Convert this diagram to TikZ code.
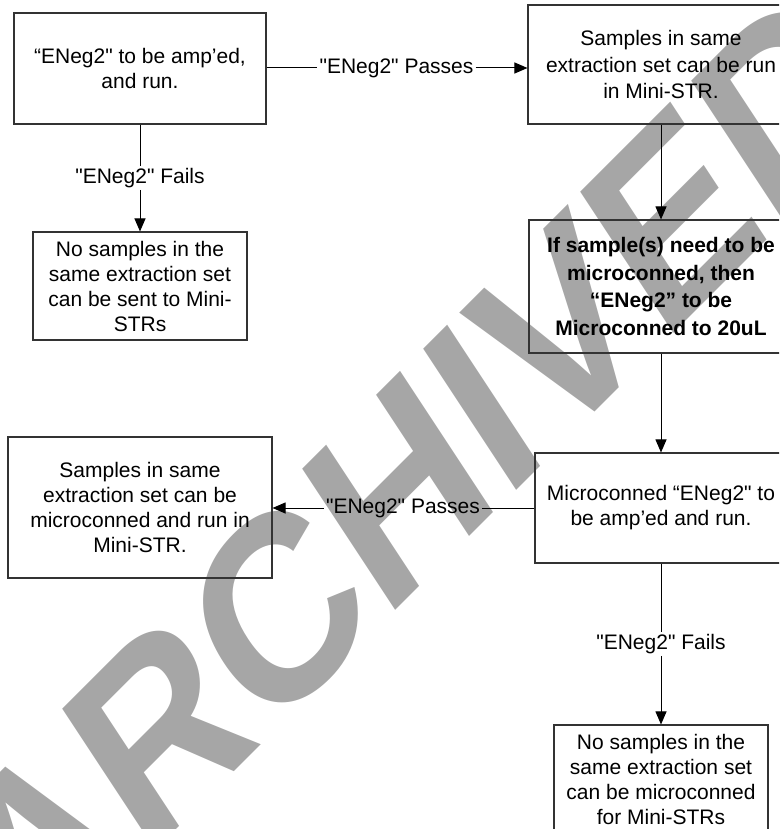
\documentclass[tikz,border=0pt]{standalone}
\usepackage{fontspec}
\setmainfont{Liberation Sans}[Ligatures=TeXOff]
\usetikzlibrary{arrows.meta}
\definecolor{stampgray}{RGB}{166,166,166}
\begin{document}
\begin{tikzpicture}[x=1pt,y=-1pt,
  box/.style={draw=black!80, line width=1.1pt, rectangle, inner sep=0pt,
              align=center, font=\fontsize{21}{25}\selectfont},
  cond/.style={inner sep=2pt, font=\fontsize{21}{25}\selectfont},
  flow/.style={draw=black, line width=1pt},
  arr/.style={flow, -{Triangle[length=13pt,width=11pt]}}]
\useasboundingbox (0,0) rectangle (779,829);
\clip (0,0) rectangle (779,829);

% diagonal stamp behind the chart
\begin{scope}[shift={(24.3,982.3)}, cm={0.776,0.776,-0.630,0.957,(0,0)}]
  \node[transform shape, anchor=base west, inner sep=0pt, text=stampgray,
        font=\fontsize{214.5}{214.5}\selectfont\bfseries] (stamp) at (0,0) {ARCHIVED};
\end{scope}

% process boxes
\node[box, minimum width=252pt, minimum height=111pt] (amp) at (140,68.5)
  {“ENeg2" to be amp’ed,\\and run.};
\node[box, minimum width=266pt, minimum height=119pt,
      font=\fontsize{21}{26.5}\selectfont] (runset) at (661,64.5)
  {Samples in same\\extraction set can be run\\in Mini-STR.};
\node[box, minimum width=214pt, minimum height=108pt] (nosend) at (140,286)
  {No samples in the\\same extraction set\\can be sent to Mini-\\STRs};
\node[box, minimum width=264pt, minimum height=133pt,
      font=\fontsize{21}{27.5}\selectfont\bfseries] (micro) at (661,286.5)
  {If sample(s) need to be\\microconned, then\\“ENeg2” to be\\Microconned to 20uL};
\node[box, minimum width=264pt, minimum height=141pt] (microrun) at (140,507.5)
  {Samples in same\\extraction set can be\\microconned and run in\\Mini-STR.};
\node[box, minimum width=252pt, minimum height=110pt] (ampmicro) at (661,508)
  {Microconned “ENeg2" to\\be amp’ed and run.};
\node[box, minimum width=214pt, minimum height=108pt] (nomicro) at (661,779)
  {No samples in the\\same extraction set\\can be microconned\\for Mini-STRs};

% connector labels
\node[cond] (passA) at (396.5,68) {"ENeg2" Passes};
\node[cond] (failA) at (140,178) {"ENeg2" Fails};
\node[cond] (passB) at (403,508) {"ENeg2" Passes};
\node[cond] (failB) at (661,644) {"ENeg2" Fails};

% connectors
\draw[flow] (amp.east |- passA) -- (passA.west);
\draw[arr] (passA.east) -- (passA -| runset.west);
\draw[flow] (amp.south) -- (failA.north);
\draw[arr] (failA.south) -- (nosend.north);
\draw[arr] (runset.south) -- (micro.north);
\draw[arr] (micro.south) -- (ampmicro.north);
\draw[flow] (ampmicro.west |- passB) -- (passB.east);
\draw[arr] (passB.west) -- (passB -| microrun.east);
\draw[flow] (ampmicro.south) -- (failB.north);
\draw[arr] (failB.south) -- (nomicro.north);
\end{tikzpicture}
\end{document}
